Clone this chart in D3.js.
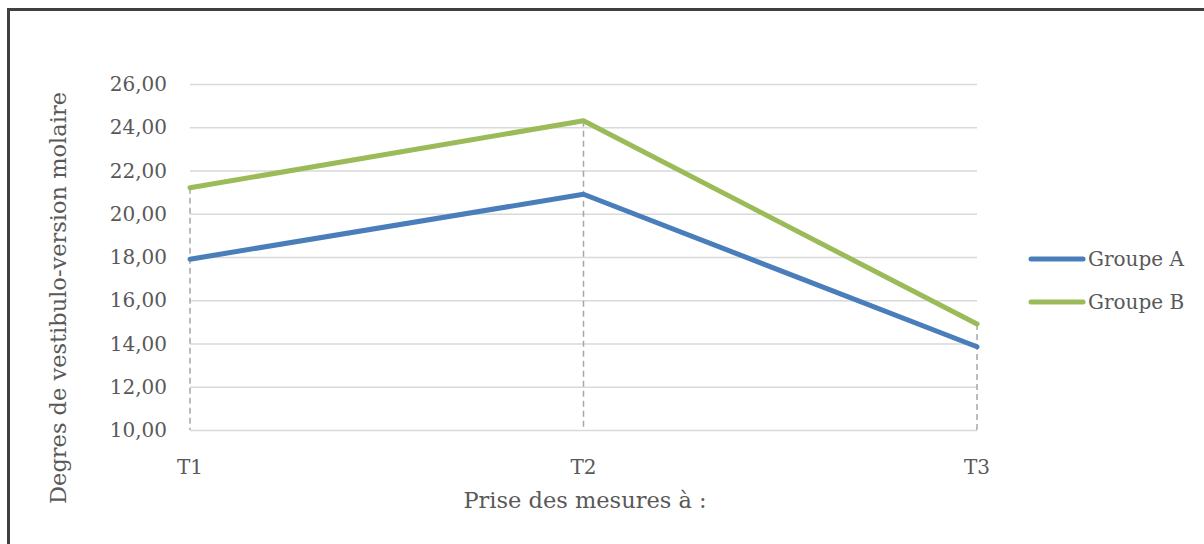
<!DOCTYPE html>
<html>
<head>
<meta charset="utf-8">
<script src="https://cdn.jsdelivr.net/npm/d3@7"></script>
<style>
  body { margin: 0; background: #fff; }
  text { font-family: "DejaVu Serif", "Liberation Serif", serif; fill: #595959; }
</style>
</head>
<body>
<div id="chart"></div>
<script>
var categories = ["T1", "T2", "T3"];
var groupeA = [17.9, 20.9, 13.85];
var groupeB = [21.2, 24.3, 14.9];
var yTicks = [10, 12, 14, 16, 18, 20, 22, 24, 26];
var seriesNames = ["Groupe A", "Groupe B"];
var colors = ["#4a7ebb", "#9bbb59"];

var width = 1204, height = 544;
var margin = { left: 190, top: 84, right: 227, bottom: 114 };
var fontSize = "20px";
var titleSize = "22.5px";

var svg = d3.select("#chart").append("svg")
    .attr("width", width)
    .attr("height", height);

// frame round the chart
svg.append("rect")
    .attr("x", 8.5).attr("y", 9.5)
    .attr("width", 1400).attr("height", 700)
    .attr("fill", "none")
    .attr("stroke", "#404040")
    .attr("stroke-width", 3);

var x = d3.scalePoint()
    .domain(categories)
    .range([margin.left, width - margin.right]);

var y = d3.scaleLinear()
    .domain([10, 26])
    .range([height - margin.bottom, margin.top]);

// gridlines
svg.append("g")
    .selectAll("line")
    .data(yTicks)
    .enter().append("line")
    .attr("x1", margin.left)
    .attr("x2", width - margin.right)
    .attr("y1", function(d) { return y(d) + 0.5; })
    .attr("y2", function(d) { return y(d) + 0.5; })
    .attr("stroke", "#d9d9d9")
    .attr("stroke-width", 1.3);

// y tick labels
var fmt = function(d) { return d3.format(".2f")(d).replace(".", ","); };
svg.append("g")
    .selectAll("text")
    .data(yTicks)
    .enter().append("text")
    .attr("x", margin.left - 23)
    .attr("y", function(d) { return y(d); })
    .attr("dy", "0.35em")
    .attr("text-anchor", "end")
    .style("font-size", fontSize)
    .text(fmt);

// drop lines
var series = [groupeA, groupeB];
svg.append("g")
    .selectAll("line")
    .data(categories)
    .enter().append("line")
    .attr("x1", function(d) { return x(d); })
    .attr("x2", function(d) { return x(d); })
    .attr("y1", function(d, i) { return y(d3.max(series, function(s) { return s[i]; })); })
    .attr("y2", y(10))
    .attr("stroke", "#a6a6a6")
    .attr("stroke-width", 1.5)
    .attr("stroke-dasharray", "6,4");

// x tick labels
svg.append("g")
    .selectAll("text")
    .data(categories)
    .enter().append("text")
    .attr("x", function(d) { return x(d); })
    .attr("y", y(10) + 44)
    .attr("text-anchor", "middle")
    .style("font-size", fontSize)
    .text(function(d) { return d; });

// lines
var line = d3.line()
    .x(function(d, i) { return x(categories[i]); })
    .y(function(d) { return y(d); });

svg.append("g")
    .selectAll("path")
    .data(series)
    .enter().append("path")
    .attr("d", line)
    .attr("fill", "none")
    .attr("stroke", function(d, i) { return colors[i]; })
    .attr("stroke-width", 5)
    .attr("stroke-linejoin", "round")
    .attr("stroke-linecap", "round");

// axis titles
svg.append("text")
    .attr("x", 585)
    .attr("y", 508)
    .attr("text-anchor", "middle")
    .style("font-size", titleSize)
    .text("Prise des mesures à :");

svg.append("text")
    .attr("transform", "translate(66," + 298 + ") rotate(-90)")
    .attr("text-anchor", "middle")
    .style("font-size", titleSize)
    .text("Degres de vestibulo-version molaire");

// legend
var legend = svg.append("g")
    .selectAll("g")
    .data(seriesNames)
    .enter().append("g")
    .attr("transform", function(d, i) { return "translate(1031," + (259 + i * 43) + ")"; });

legend.append("line")
    .attr("x1", 0).attr("x2", 52)
    .attr("stroke", function(d, i) { return colors[i]; })
    .attr("stroke-width", 5)
    .attr("stroke-linecap", "round");

legend.append("text")
    .attr("x", 57)
    .attr("dy", "0.35em")
    .style("font-size", fontSize)
    .text(function(d) { return d; });
</script>
</body>
</html>
